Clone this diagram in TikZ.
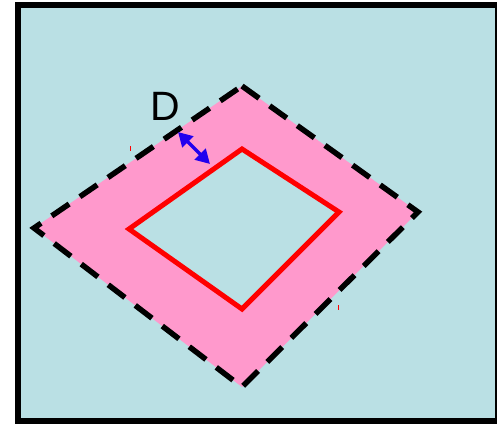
\documentclass[tikz,border=0pt]{standalone}
\usepackage{fontspec}
\setmainfont{Liberation Sans}
\usetikzlibrary{arrows.meta}
\definecolor{bgblue}{HTML}{BAE0E4}
\definecolor{pinkfill}{HTML}{FF99CC}
\definecolor{arrblue}{HTML}{2200EE}
\tikzset{
  outerbox/.style={draw=black,line width=6pt,fill=bgblue},
  band/.style={draw=black,line width=5.5pt,dash pattern=on 21pt off 13pt},
  innerloop/.style={draw=red,line width=5pt,fill=bgblue,line join=miter},
  gap/.style={draw=arrblue,line width=3.5pt,{Triangle[length=14pt,width=15pt]}-{Triangle[length=14pt,width=15pt]}},
  tick/.style={draw=red,line width=1pt},
}
\begin{document}
\begin{tikzpicture}[x=1pt,y=-1pt]
\useasboundingbox (0,0) rectangle (497,424);
\draw[outerbox] (18,5) rectangle (498,421);
\coordinate (ot) at (242,86);
\coordinate (or) at (418,212);
\coordinate (ob) at (242,387);
\coordinate (ol) at (34,228);
\fill[pinkfill] (ot) -- (or) -- (ob) -- (ol) -- cycle;
\draw[band] (ot) -- (or) -- (ob) -- (ol) -- cycle;
\coordinate (it) at (242,149);
\coordinate (ir) at (339,212);
\coordinate (ib) at (242,309);
\coordinate (il) at (129,229);
\draw[innerloop] (it) -- (ir) -- (ib) -- (il) -- cycle;
\coordinate (a1) at (178,132);
\coordinate (a2) at (210,164);
\draw[gap] (a1) -- (a2);
\node[font=\fontsize{41}{48}\selectfont,inner sep=0pt] (D) at (165,106) {D};
\coordinate (t1a) at (130,146);
\coordinate (t1b) at (130,151);
\draw[tick] (t1a) -- (t1b);
\coordinate (t2a) at (338,305);
\coordinate (t2b) at (338,310);
\draw[tick] (t2a) -- (t2b);
\end{tikzpicture}
\end{document}
